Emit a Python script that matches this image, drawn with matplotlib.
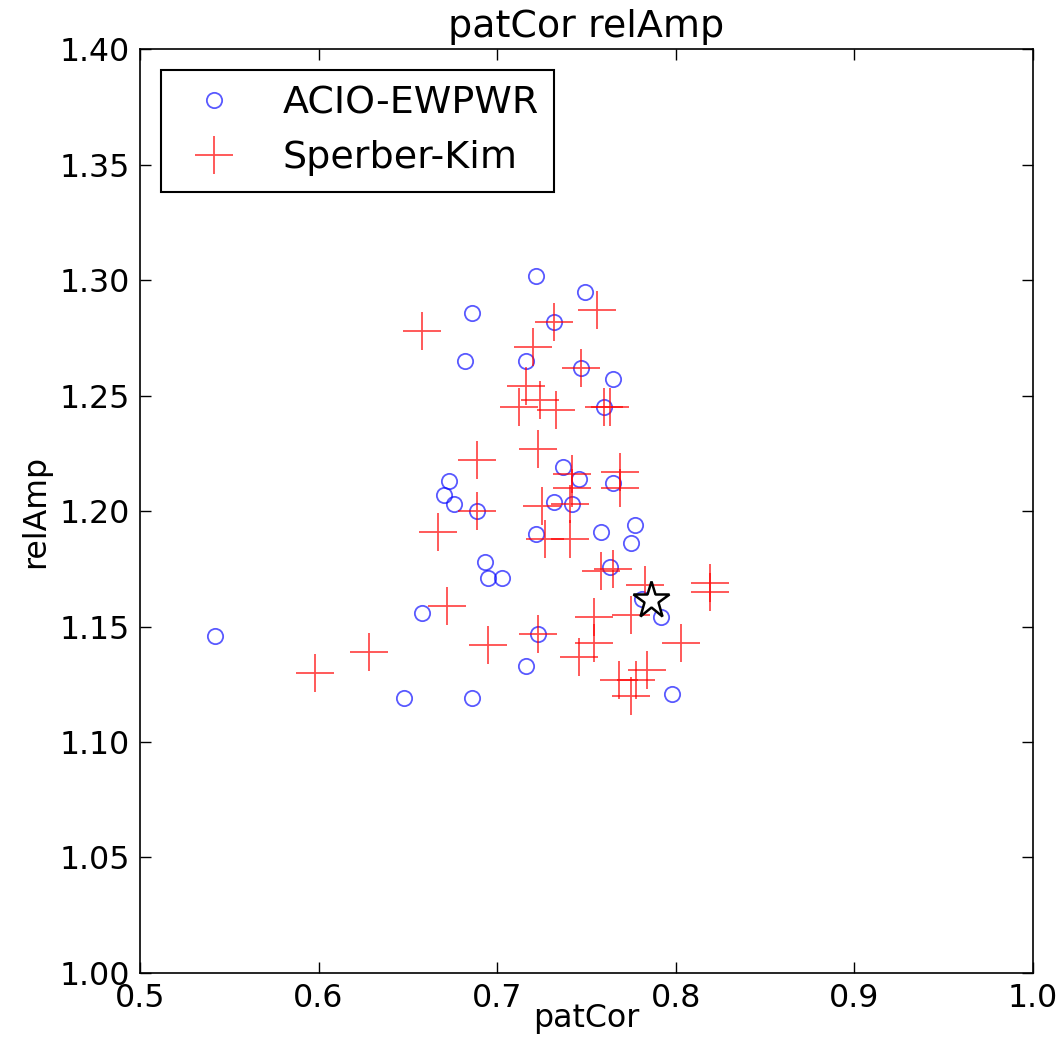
import matplotlib
matplotlib.use("Agg")
import matplotlib.pyplot as plt

acio_patcor = [0.542, 0.648, 0.686, 0.658, 0.722, 0.749, 0.686, 0.732, 0.682, 0.716,
               0.747, 0.765, 0.760, 0.673, 0.670, 0.676, 0.689, 0.737, 0.746, 0.765,
               0.732, 0.742, 0.722, 0.758, 0.777, 0.775, 0.763, 0.693, 0.695, 0.703,
               0.781, 0.792, 0.723, 0.716, 0.798]
acio_relamp = [1.146, 1.119, 1.119, 1.156, 1.302, 1.295, 1.286, 1.282, 1.265, 1.265,
               1.262, 1.257, 1.245, 1.213, 1.207, 1.203, 1.200, 1.219, 1.214, 1.212,
               1.204, 1.203, 1.190, 1.191, 1.194, 1.186, 1.176, 1.178, 1.171, 1.171,
               1.162, 1.154, 1.147, 1.133, 1.121]

sk_patcor = [0.658, 0.756, 0.732, 0.720, 0.747, 0.716, 0.724, 0.712, 0.733, 0.760,
             0.763, 0.723, 0.689, 0.742, 0.742, 0.741, 0.725, 0.727, 0.741, 0.769,
             0.769, 0.689, 0.667, 0.758, 0.765, 0.783, 0.775, 0.754, 0.754, 0.746,
             0.723, 0.803, 0.784, 0.768, 0.778, 0.775, 0.819, 0.819, 0.598, 0.628,
             0.672, 0.695]
sk_relamp = [1.278, 1.287, 1.282, 1.271, 1.262, 1.254, 1.248, 1.245, 1.244, 1.245,
             1.245, 1.227, 1.222, 1.216, 1.210, 1.203, 1.202, 1.188, 1.188, 1.217,
             1.210, 1.200, 1.191, 1.174, 1.175, 1.168, 1.155, 1.154, 1.143, 1.137,
             1.147, 1.143, 1.131, 1.127, 1.127, 1.120, 1.169, 1.165, 1.130, 1.139,
             1.159, 1.142]

ref_patcor = [0.786]
ref_relamp = [1.1615]

xticks = [0.5, 0.6, 0.7, 0.8, 0.9, 1.0]
yticks = [1.00, 1.05, 1.10, 1.15, 1.20, 1.25, 1.30, 1.35, 1.40]

plt.rcParams['font.family'] = ['DejaVu Sans']
fig = plt.figure(figsize=(10.6, 10.48), dpi=100, facecolor='white')
ax = fig.add_axes([0.132, 0.0716, 0.8425, 0.8814])

ax.plot(acio_patcor, acio_relamp, linestyle='none', marker='o', ms=11,
        mfc='none', mec='blue', mew=1.3, alpha=0.65, label='ACIO-EWPWR')
ax.plot(sk_patcor, sk_relamp, linestyle='none', marker='+', ms=28,
        mec='red', mew=1.3, alpha=0.7, label='Sperber-Kim')
ax.plot(ref_patcor, ref_relamp, linestyle='none', marker='*', ms=28,
        mfc='white', mec='black', mew=1.8)

ax.set_xlim(0.5, 1.0)
ax.set_ylim(1.0, 1.4)
ax.set_xticks(xticks)
ax.set_yticks(yticks)
ax.set_xticklabels([f"{v:.1f}" for v in xticks])
ax.set_yticklabels([f"{v:.2f}" for v in yticks])
ax.tick_params(direction='in', top=True, right=True, length=7.7, width=1,
               labelsize=22.8, pad=7)
for s in ax.spines.values():
    s.set_linewidth(1.2)

ax.set_xlabel('patCor', fontsize=22.8, labelpad=-8)
ax.set_ylabel('relAmp', fontsize=22.8, labelpad=6)
ax.set_title('patCor relAmp', fontsize=27.4, pad=8.6)

leg = ax.legend(loc='upper left', numpoints=1, fontsize=27.4, fancybox=False,
                borderpad=0.4, handletextpad=0.8, handlelength=2.0,
                labelspacing=0.5, borderaxespad=0.55)
leg.get_frame().set_edgecolor('black')
leg.get_frame().set_linewidth(1.5)
leg.get_frame().set_alpha(1)

fig.savefig('out.png', dpi=100, facecolor='white')
